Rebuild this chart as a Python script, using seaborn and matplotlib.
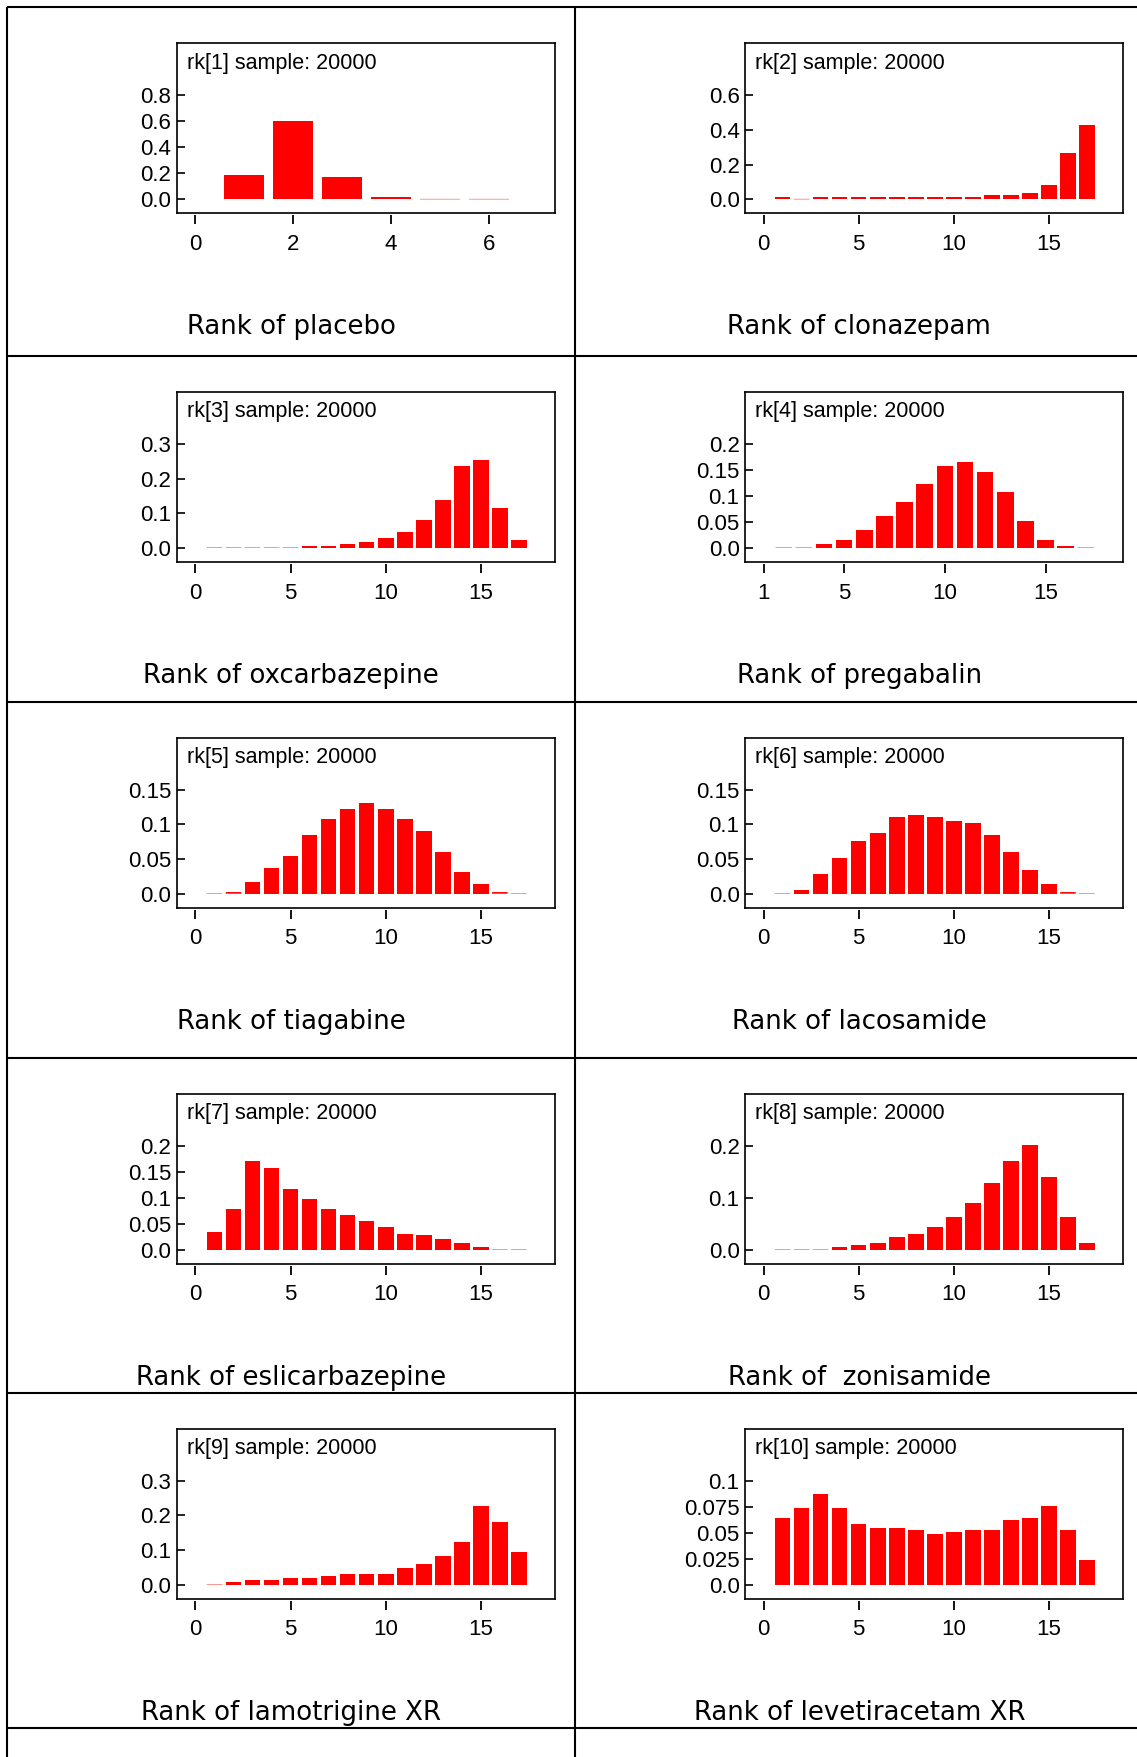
import numpy as np
import pandas as pd
import matplotlib
matplotlib.use("Agg")
import matplotlib.pyplot as plt
import seaborn as sns
from matplotlib.lines import Line2D

# ---------------- data ----------------
labels = ["Rank of placebo", "Rank of clonazepam", "Rank of oxcarbazepine",
          "Rank of pregabalin", "Rank of tiagabine", "Rank of lacosamide",
          "Rank of eslicarbazepine", "Rank of  zonisamide",
          "Rank of lamotrigine XR", "Rank of levetiracetam XR"]

ranks_placebo = [1, 2, 3, 4, 5, 6]
ranks_all = list(range(1, 18))
ranks_pregabalin = list(range(2, 18))

p_placebo = [0.187, 0.602, 0.172, 0.018, 0.003, 0.003]
p_clonazepam = [0.012, 0.0025, 0.012, 0.012, 0.012, 0.012, 0.012, 0.012, 0.012,
                0.012, 0.012, 0.025, 0.025, 0.036, 0.082, 0.266, 0.427]
p_oxcarbazepine = [0.0012, 0.0012, 0.0012, 0.0012, 0.0012, 0.007, 0.007, 0.0125, 0.018,
                   0.030, 0.047, 0.082, 0.139, 0.2375, 0.255, 0.116, 0.024]
p_pregabalin = [0.0008, 0.0008, 0.0083, 0.016, 0.035, 0.062, 0.089, 0.124, 0.158,
                0.166, 0.147, 0.108, 0.051, 0.016, 0.0045, 0.0008]
p_tiagabine = [0.0006, 0.0024, 0.0168, 0.037, 0.054, 0.0846, 0.1077, 0.122, 0.131,
               0.122, 0.1077, 0.090, 0.060, 0.031, 0.014, 0.0024, 0.0006]
p_lacosamide = [0.0006, 0.0053, 0.028, 0.051, 0.076, 0.0875, 0.1106, 0.1135, 0.1106,
                0.1048, 0.102, 0.0846, 0.060, 0.034, 0.014, 0.0024, 0.0006]
p_eslicarbazepine = [0.035, 0.0776, 0.170, 0.158, 0.116, 0.097, 0.0776, 0.066, 0.0545,
                     0.043, 0.031, 0.0276, 0.020, 0.012, 0.0045, 0.0008, 0.0008]
p_zonisamide = [0.0008, 0.0008, 0.0008, 0.0045, 0.0083, 0.012, 0.0237, 0.031, 0.043,
                0.062, 0.089, 0.1276, 0.170, 0.2006, 0.139, 0.062, 0.012]
p_lamotrigine = [0.0012, 0.0067, 0.0125, 0.0125, 0.018, 0.018, 0.024, 0.030, 0.030,
                 0.030, 0.047, 0.0587, 0.0817, 0.122, 0.226, 0.180, 0.093]
p_levetiracetam = [0.0638, 0.0734, 0.0869, 0.0734, 0.058, 0.0542, 0.0542, 0.0522, 0.0484,
                   0.0503, 0.0522, 0.0522, 0.0619, 0.0638, 0.0753, 0.0522, 0.0234]

ranks = [ranks_placebo, ranks_all, ranks_all, ranks_pregabalin, ranks_all,
         ranks_all, ranks_all, ranks_all, ranks_all, ranks_all]
probs = [p_placebo, p_clonazepam, p_oxcarbazepine, p_pregabalin, p_tiagabine,
         p_lacosamide, p_eslicarbazepine, p_zonisamide, p_lamotrigine, p_levetiracetam]

yticks = [[0, 0.2, 0.4, 0.6, 0.8], [0, 0.2, 0.4, 0.6], [0, 0.1, 0.2, 0.3],
          [0, 0.05, 0.1, 0.15, 0.2], [0, 0.05, 0.1, 0.15], [0, 0.05, 0.1, 0.15],
          [0, 0.05, 0.1, 0.15, 0.2], [0, 0.1, 0.2], [0, 0.1, 0.2, 0.3],
          [0, 0.025, 0.05, 0.075, 0.1]]
ytick_labels = [["0.0", "0.2", "0.4", "0.6", "0.8"], ["0.0", "0.2", "0.4", "0.6"],
                ["0.0", "0.1", "0.2", "0.3"], ["0.0", "0.05", "0.1", "0.15", "0.2"],
                ["0.0", "0.05", "0.1", "0.15"], ["0.0", "0.05", "0.1", "0.15"],
                ["0.0", "0.05", "0.1", "0.15", "0.2"], ["0.0", "0.1", "0.2"],
                ["0.0", "0.1", "0.2", "0.3"], ["0.0", "0.025", "0.05", "0.075", "0.1"]]
xticks = [[0, 2, 4, 6], [0, 5, 10, 15], [0, 5, 10, 15], [1, 5, 10, 15], [0, 5, 10, 15],
          [0, 5, 10, 15], [0, 5, 10, 15], [0, 5, 10, 15], [0, 5, 10, 15], [0, 5, 10, 15]]
sample_size = 20000

# ---------------- layout (pixels) ----------------
W, H = 1137, 1757
fig = plt.figure(figsize=(W / 100, H / 100), dpi=100)
fig.patch.set_facecolor("white")

col_left = [7.3, 575.4]
col_w = 568
row_top = [7.3, 356.0, 701.7, 1057.7, 1392.7]
row_lines = row_top + [1727.7]
box_dx, box_w, box_dy, box_h = 169.7, 378.0, 36.0, 170.0


def fx(px):
    return px / W


def fy(py):
    return 1 - py / H


grid_lw = 1.5
for y in row_lines:
    fig.add_artist(Line2D([fx(col_left[0]), 1.0], [fy(y), fy(y)], color="black",
                          lw=grid_lw, transform=fig.transFigure, solid_capstyle="butt"))
for x in col_left:
    fig.add_artist(Line2D([fx(x), fx(x)], [fy(row_lines[0]), 0.0], color="black",
                          lw=grid_lw, transform=fig.transFigure, solid_capstyle="butt"))

tick_font = "Liberation Sans"
tick_size = 16

for i in range(len(labels)):
    r, c = divmod(i, 2)
    left = col_left[c] + box_dx
    top = row_top[r] + box_dy
    ax = fig.add_axes([fx(left), fy(top + box_h), box_w / W, box_h / H])

    df = pd.DataFrame({"rank": ranks[i], "prob": probs[i]})
    sns.barplot(data=df, x="rank", y="prob", native_scale=True, width=0.82,
                color="#ff0000", saturation=1, linewidth=0, errorbar=None, ax=ax)
    ax.set_xlabel("")
    ax.set_ylabel("")

    lo, hi = ranks[i][0] - 1, ranks[i][-1] + 1
    R = hi - lo
    ax.set_xlim(lo - 0.054 * R, hi + 0.05 * R)
    T = yticks[i][-1]
    ax.set_ylim(-T * 14.0 / 104.0, T * 156.0 / 104.0)

    # sub-pixel bars: let antialiasing show them as faint pink strokes
    for p in ax.patches:
        if abs(p.get_height()) < T * 0.02:
            p.set_snap(False)

    for s in ax.spines.values():
        s.set_visible(True)
        s.set_linewidth(1.2)
        s.set_color("black")

    ax.set_yticks(yticks[i])
    ax.set_yticklabels(ytick_labels[i], fontfamily=tick_font)
    ax.tick_params(axis="y", direction="in", length=6, width=1.2, pad=4.0,
                   labelsize=tick_size, left=True, right=False)
    ax.tick_params(axis="x", bottom=False, labelbottom=False, top=False)

    sec = ax.secondary_xaxis(-2.0 / box_h)
    sec.set_xticks(xticks[i])
    sec.set_xticklabels([str(v) for v in xticks[i]], fontfamily=tick_font)
    sec.tick_params(direction="out", length=6.5, width=1.3, pad=7.0, labelsize=tick_size)
    sec.spines["bottom"].set_visible(False)

    ax.text(10.0 / box_w, 1 - 9.5 / box_h, f"rk[{i + 1}] sample: {sample_size}",
            transform=ax.transAxes, ha="left", va="top", fontsize=15.5,
            fontfamily=tick_font)

    fig.text(fx(col_left[c] + col_w / 2), fy(row_top[r] + 327), labels[i],
             ha="center", va="baseline", fontsize=18.7, fontfamily="DejaVu Sans")

fig.savefig("out.png", dpi=100, facecolor="white")
